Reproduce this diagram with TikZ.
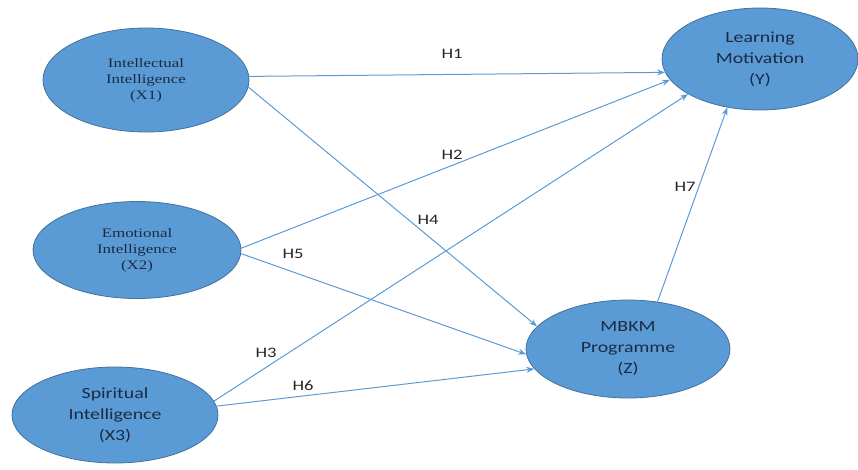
\documentclass[tikz,border=0pt]{standalone}
\usepackage{fontspec}
\usetikzlibrary{shapes.geometric,arrows.meta}
\newfontfamily\sansY[FakeStretch=1.28]{Carlito}
\newfontfamily\serifY[FakeStretch=1.3]{Liberation Serif}
\definecolor{fillblue}{HTML}{5B9BD5}
\definecolor{edgeblue}{HTML}{41719C}
\definecolor{txtnavy}{HTML}{1C2A44}
\definecolor{arrblue}{HTML}{5B9BD5}
\tikzset{
  var/.style={ellipse, draw=edgeblue, line width=0.8pt, fill=fillblue, text=txtnavy, align=center, inner sep=0pt},
  servar/.style={var, font=\serifY\fontsize{13}{16}\selectfont},
  sansvar/.style={var, font=\sansY\fontsize{15.5}{21}\selectfont},
  hyp/.style={draw=arrblue, line width=1pt, -{Stealth[length=8pt,width=6pt]}},
  hlab/.style={font=\sansY\fontsize{14.5}{16}\selectfont, text=black!85, inner sep=1pt}
}
\begin{document}
\begin{tikzpicture}[x=1pt,y=-1pt]
\useasboundingbox (0,0) rectangle (858,469);
\node[servar, minimum width=206pt, minimum height=104pt] (X1) at (146,80) {Intellectual\\Intelligence\\(X1)};
\node[servar, minimum width=208pt, minimum height=97pt] (X2) at (137,250) {Emotional\\Intelligence\\(X2)};
\node[sansvar, minimum width=206pt, minimum height=96pt] (X3) at (115,415) {Spiritual\\Intelligence\\(X3)};
\node[sansvar, minimum width=196pt, minimum height=102pt] (Y) at (760,59) {Learning\\Motivation\\(Y)};
\node[sansvar, minimum width=204pt, minimum height=98pt] (Z) at (628,349) {MBKM\\Programme\\(Z)};
\draw[hyp] (X1.2) -- (Y.188.6);
\draw[hyp] (X2.1) -- (Y.193);
\draw[hyp] (X3.8.6) -- (Y.206);
\draw[hyp] (X1.-4) -- (Z.166);
\draw[hyp] (X2.-2) -- (Z.183.4);
\draw[hyp] (X3.5.5) -- (Z.192);
\draw[hyp] (Z.58.5) -- (Y.236);
\node[hlab] (h1) at (452,54) {H1};
\node[hlab] (h2) at (452,155) {H2};
\node[hlab] (h3) at (266,353) {H3};
\node[hlab] (h4) at (428,220) {H4};
\node[hlab] (h5) at (293,254) {H5};
\node[hlab] (h6) at (303,386) {H6};
\node[hlab] (h7) at (685,187) {H7};
\end{tikzpicture}
\end{document}
